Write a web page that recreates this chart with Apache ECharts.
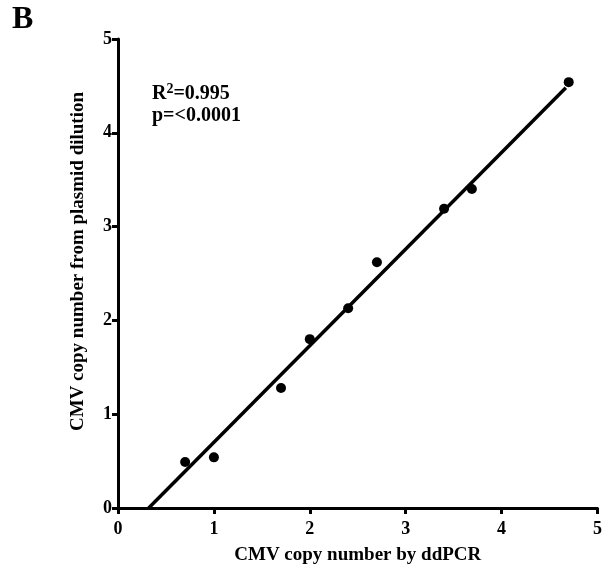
<!DOCTYPE html>
<html><head><meta charset="utf-8">
<script src="https://cdn.jsdelivr.net/npm/echarts@6/dist/echarts.min.js"></script>
<style>html,body{margin:0;padding:0;background:#fff}#c{width:605px;height:576px}</style>
</head><body><div id="c"></div>
<script>
const ddpcrX = [0.70, 1.00, 1.70, 2.00, 2.40, 2.70, 3.40, 3.69, 4.70];
const plasmidY = [0.49, 0.54, 1.28, 1.80, 2.13, 2.62, 3.19, 3.40, 4.54];
const fitX = [0.32, 4.67];
const fitY = [0.00, 4.48];
const axisTicks = [0, 1, 2, 3, 4, 5];
const xTitle = 'CMV copy number by ddPCR';
const yTitle = 'CMV copy number from plasmid dilution';

const font = '"Liberation Serif", "Times New Roman", serif';
const chart = echarts.init(document.getElementById('c'), null, {renderer: 'canvas'});
const axisCommon = {
  min: axisTicks[0], max: axisTicks[axisTicks.length - 1], interval: 1,
  axisLine: {show: true, onZero: false, lineStyle: {color: '#000', width: 3}},
  axisTick: {show: true, length: 6, lineStyle: {color: '#000', width: 3}},
  axisLabel: {color: '#000', fontFamily: font, fontWeight: 'bold', fontSize: 18},
  splitLine: {show: false},
  nameLocation: 'middle',
  nameTextStyle: {color: '#000', fontFamily: font, fontWeight: 'bold', fontSize: 19}
};
chart.setOption({
  animation: false,
  grid: {left: 118, right: 5, top: 39, bottom: 68},
  xAxis: Object.assign({}, axisCommon, {type: 'value', name: xTitle, nameGap: 38,
    axisLabel: Object.assign({}, axisCommon.axisLabel, {margin: 12})}),
  yAxis: Object.assign({}, axisCommon, {type: 'value', name: yTitle, nameGap: 30,
    nameTextStyle: Object.assign({}, axisCommon.nameTextStyle, {padding: [0, 0, 0, 24]}),
    axisLabel: Object.assign({}, axisCommon.axisLabel, {margin: 6})}),
  graphic: [
    {type: 'text', left: 12, top: 4, style: {text: 'B', font: 'bold 32px ' + font, fill: '#000'}},
    {type: 'text', left: 152, top: 82, style: {
      text: '{a|R}{s|2}{a|=0.995}\n{a|p=<0.0001}',
      rich: {
        a: {font: 'bold 20px ' + font, fill: '#000', lineHeight: 22, verticalAlign: 'bottom'},
        s: {font: 'bold 14px ' + font, fill: '#000', lineHeight: 22, verticalAlign: 'top', padding: [0, 0, 9, 0]}
      }
    }}
  ],
  series: [
    {type: 'line', data: fitX.map((x, i) => [x, fitY[i]]), showSymbol: false,
     lineStyle: {color: '#000', width: 3.5}, z: 2},
    {type: 'scatter', data: ddpcrX.map((x, i) => [x, plasmidY[i]]), symbol: 'circle', symbolSize: 10,
     itemStyle: {color: '#000', opacity: 1}, z: 3}
  ]
});
</script></body></html>
